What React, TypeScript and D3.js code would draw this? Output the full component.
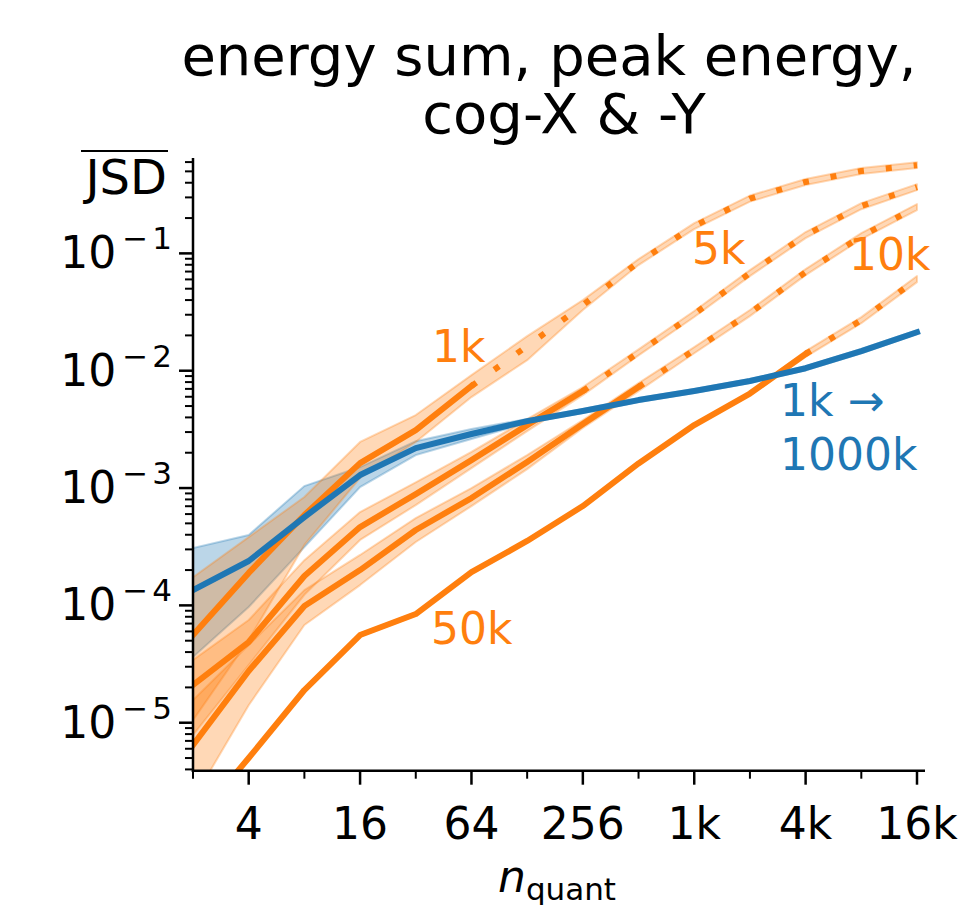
import React from "react";
import * as d3 from "d3";

// n_quant grid (powers of two)
const nQuant = [2, 4, 8, 16, 32, 64, 128, 256, 512, 1024, 2048, 4096, 8192, 16384];

const xTickValues = [4, 16, 64, 256, 1024, 4096, 16384];
const xTickLabels = ["4", "16", "64", "256", "1k", "4k", "16k"];
const yTickExponents = [-1, -2, -3, -4, -5];

// reference run with growing sample size (1k -> 1000k)
const refMean = [1.35e-4, 2.39e-4, 5.66e-4, 1.29e-3, 2.19e-3, 2.89e-3, 3.72e-3, 4.53e-3, 5.62e-3, 6.71e-3, 8.17e-3, 1.05e-2, 1.47e-2, 2.13e-2];
const refLow = [3.63e-5, 9.68e-5, 3.14e-4, 1.02e-3, 1.91e-3, 2.62e-3, 3.58e-3, 4.36e-3, 5.4e-3, 6.45e-3, 7.86e-3, 1.01e-2, 1.41e-2, 2.05e-2];
const refHigh = [3.08e-4, 3.98e-4, 1.04e-3, 1.51e-3, 2.51e-3, 3.19e-3, 3.87e-3, 4.71e-3, 5.85e-3, 6.98e-3, 8.5e-3, 1.09e-2, 1.53e-2, 2.22e-2];
const refLabelLines = ["1k \u2192", "1000k"];

// fixed sample sizes
const sampleSizes = [1000, 5000, 10000, 50000];
const sampleLabels = ["1k", "5k", "10k", "50k"];

const jsd1kMean = [5.59e-5, 1.89e-4, 5.89e-4, 1.63e-3, 3.12e-3, 7.4e-3, 1.62e-2, 3.62e-2, 8.43e-2, 0.171, 0.293, 0.406, 0.504, 0.565];
const jsd1kLow = [1.05e-5, 5.07e-5, 3.27e-4, 1.22e-3, 2.47e-3, 5.96e-3, 1.23e-2, 3.29e-2, 7.95e-2, 0.161, 0.276, 0.383, 0.475, 0.533];
const jsd1kHigh = [1.74e-4, 3.82e-4, 8.38e-4, 2.47e-3, 4.19e-3, 9.18e-3, 1.97e-2, 4.0e-2, 8.94e-2, 0.181, 0.311, 0.431, 0.535, 0.599];

const jsd5kMean = [2.1e-5, 4.87e-5, 1.78e-4, 4.65e-4, 8.89e-4, 1.73e-3, 3.44e-3, 6.71e-3, 1.43e-2, 3.04e-2, 6.79e-2, 0.143, 0.253, 0.367];
const jsd5kLow = [7.86e-6, 3.1e-5, 1.23e-4, 3.61e-4, 7.16e-4, 1.48e-3, 3.06e-3, 6.2e-3, 1.35e-2, 2.87e-2, 6.4e-2, 0.135, 0.238, 0.346];
const jsd5kHigh = [3.42e-5, 7.5e-5, 2.43e-4, 6.24e-4, 1.12e-3, 2.03e-3, 3.87e-3, 7.26e-3, 1.52e-2, 3.23e-2, 7.2e-2, 0.152, 0.268, 0.389];

const jsd10kMean = [6.46e-6, 2.76e-5, 9.87e-5, 2.0e-4, 4.39e-4, 8.22e-4, 1.67e-3, 3.51e-3, 7.26e-3, 1.5e-2, 3.1e-2, 6.93e-2, 0.14, 0.248];
const jsd10kLow = [2.19e-6, 1.41e-5, 6.8e-5, 1.49e-4, 3.47e-4, 7.02e-4, 1.45e-3, 3.25e-3, 6.71e-3, 1.41e-2, 2.92e-2, 6.53e-2, 0.132, 0.234];
const jsd10kHigh = [1.56e-5, 4.59e-5, 1.35e-4, 2.69e-4, 5.55e-4, 1.0e-3, 1.91e-3, 3.8e-3, 7.85e-3, 1.59e-2, 3.29e-2, 7.35e-2, 0.149, 0.263];

const jsd50kMean = [1.37e-6, 5.0e-6, 1.9e-5, 5.59e-5, 8.44e-5, 1.92e-4, 3.54e-4, 7.02e-4, 1.62e-3, 3.44e-3, 6.39e-3, 1.39e-2, 2.7e-2, 6.04e-2];
const jsd50kLow = [1.33e-6, 4.85e-6, 1.84e-5, 5.43e-5, 8.19e-5, 1.86e-4, 3.44e-4, 6.82e-4, 1.57e-3, 3.34e-3, 6.2e-3, 1.31e-2, 2.54e-2, 5.69e-2];
const jsd50kHigh = [1.41e-6, 5.15e-6, 1.96e-5, 5.76e-5, 8.69e-5, 1.98e-4, 3.65e-4, 7.23e-4, 1.67e-3, 3.54e-3, 6.58e-3, 1.47e-2, 2.86e-2, 6.41e-2];

const titleLines = ["energy sum, peak energy,", "cog-X & -Y"];

const ORANGE = "#ff7f0e";
const BLUE = "#1f77b4";
const FONT = "DejaVu Sans";

type Pt = { n: number; v: number; lo: number; hi: number };

function zipSeries(mean: number[], lo: number[], hi: number[]): Pt[] {
  return nQuant.map((n, i) => ({ n, v: mean[i], lo: lo[i], hi: hi[i] }));
}

export default function App() {
  const W = 960;
  const H = 905;
  const left = 193;
  const right = 917;
  const axisEnd = 925;
  const top = 158;
  const bottom = 770.7;

  const x = d3.scaleLog().base(2).domain([2, 16384]).range([left, right]);
  const y = d3.scaleLog().domain([3.9e-6, 0.65]).range([bottom, top]);

  const line = d3
    .line<Pt>()
    .x((d) => x(d.n))
    .y((d) => y(d.v));
  const band = d3
    .area<Pt>()
    .x((d) => x(d.n))
    .y0((d) => y(d.lo))
    .y1((d) => y(d.hi));

  const ref = zipSeries(refMean, refLow, refHigh);
  const fixed = [
    zipSeries(jsd1kMean, jsd1kLow, jsd1kHigh),
    zipSeries(jsd5kMean, jsd5kLow, jsd5kHigh),
    zipSeries(jsd10kMean, jsd10kLow, jsd10kHigh),
    zipSeries(jsd50kMean, jsd50kLow, jsd50kHigh),
  ];

  // solid while the sample holds at least ten events per quantile, dotted beyond
  const split = (pts: Pt[], N: number) => {
    let last = 0;
    pts.forEach((p, i) => {
      if (p.n <= N / 10) last = i;
    });
    return { solid: pts.slice(0, last + 1), dotted: pts.slice(last) };
  };

  const yTicks = y.ticks();
  const xTicks = x.ticks();

  const labelPos: { x: number; y: number }[] = [
    { x: 432, y: 362 },
    { x: 692, y: 264 },
    { x: 849, y: 270 },
    { x: 431, y: 644 },
  ];

  return (
    <svg
      width={W}
      height={H}
      viewBox={`0 0 ${W} ${H}`}
      style={{ position: "absolute", left: 0, top: 0, background: "#fff" }}
      fontFamily={FONT}
    >
      <defs>
        <clipPath id="plot-area">
          <rect x={left} y={top - 4} width={axisEnd - left + 4} height={bottom - top + 4} />
        </clipPath>
      </defs>

      {/* title */}
      <text x={549} y={75} fontSize={56} textAnchor="middle" fill="#000">
        {titleLines[0]}
      </text>
      <text x={564} y={133} fontSize={56} textAnchor="middle" fill="#000">
        {titleLines[1]}
      </text>

      <g clipPath="url(#plot-area)">
        {/* uncertainty bands */}
        <path
          d={band(ref) || ""}
          fill={BLUE}
          fillOpacity={0.3}
          stroke={BLUE}
          strokeOpacity={0.3}
          strokeWidth={2}
        />
        {fixed.map((s, i) => (
          <path
            key={`band-${i}`}
            d={band(s) || ""}
            fill={ORANGE}
            fillOpacity={0.3}
            stroke={ORANGE}
            strokeOpacity={0.3}
            strokeWidth={2}
            strokeLinejoin="round"
          />
        ))}

        {/* fixed-sample lines */}
        {fixed.map((s, i) => {
          const { solid, dotted } = split(s, sampleSizes[i]);
          return (
            <g key={`line-${i}`}>
              <path
                d={line(solid) || ""}
                fill="none"
                stroke={ORANGE}
                strokeWidth={6}
                strokeLinecap="square"
                strokeLinejoin="round"
              />
              <path
                d={line(dotted) || ""}
                fill="none"
                stroke={ORANGE}
                strokeWidth={6}
                strokeDasharray="6 22"
                strokeLinecap="butt"
                strokeLinejoin="round"
              />
            </g>
          );
        })}

        {/* reference line */}
        <path
          d={line(ref) || ""}
          fill="none"
          stroke={BLUE}
          strokeWidth={6}
          strokeLinecap="square"
          strokeLinejoin="round"
        />
      </g>

      {/* series labels */}
      {sampleLabels.map((t, i) => (
        <text key={t} x={labelPos[i].x} y={labelPos[i].y} fontSize={44} fill={ORANGE}>
          {t}
        </text>
      ))}
      <text x={780} y={416} fontSize={44} fill={BLUE}>
        {refLabelLines[0]}
      </text>
      <text x={780} y={470} fontSize={44} fill={BLUE}>
        {refLabelLines[1]}
      </text>

      {/* y axis */}
      <line x1={left} x2={left} y1={top} y2={bottom + 1.2} stroke="#000" strokeWidth={2.5} />
      {yTicks.map((t, i) => {
        const major = Math.abs(Math.log10(t) - Math.round(Math.log10(t))) < 1e-9;
        return (
          <line
            key={`yt-${i}`}
            x1={left}
            x2={left - (major ? 14 : 8)}
            y1={y(t)}
            y2={y(t)}
            stroke="#000"
            strokeWidth={major ? 2.5 : 2}
          />
        );
      })}
      {yTickExponents.map((e) => (
        <text key={`yl-${e}`} x={172} y={y(Math.pow(10, e)) + 15} fontSize={44} textAnchor="end" fill="#000">
          10
          <tspan fontSize={31} dx={6} dy={-19}>
            {"\u2212"}
          </tspan>
          <tspan fontSize={31} dx={4}>
            {`${Math.abs(e)}`}
          </tspan>
        </text>
      ))}
      <text x={167} y={194} fontSize={48} textAnchor="end" fill="#000">
        JSD
      </text>
      <line x1={81} x2={168} y1={151} y2={151} stroke="#000" strokeWidth={2} />

      {/* x axis */}
      <line x1={left - 1.2} x2={axisEnd} y1={bottom} y2={bottom} stroke="#000" strokeWidth={2.5} />
      {xTicks.map((t, i) => {
        const major = Math.round(Math.log2(t)) % 2 === 0;
        return (
          <line
            key={`xt-${i}`}
            x1={x(t)}
            x2={x(t)}
            y1={bottom}
            y2={bottom + (major ? 14 : 8)}
            stroke="#000"
            strokeWidth={major ? 2.5 : 2}
          />
        );
      })}
      {xTickValues.map((v, i) => (
        <text key={`xl-${v}`} x={x(v)} y={839} fontSize={44} textAnchor="middle" fill="#000">
          {xTickLabels[i]}
        </text>
      ))}
      <text x={557} y={892} fontSize={44} textAnchor="middle" fill="#000">
        <tspan fontStyle="italic">n</tspan>
        <tspan fontSize={31} dy={8}>
          quant
        </tspan>
      </text>
    </svg>
  );
}
